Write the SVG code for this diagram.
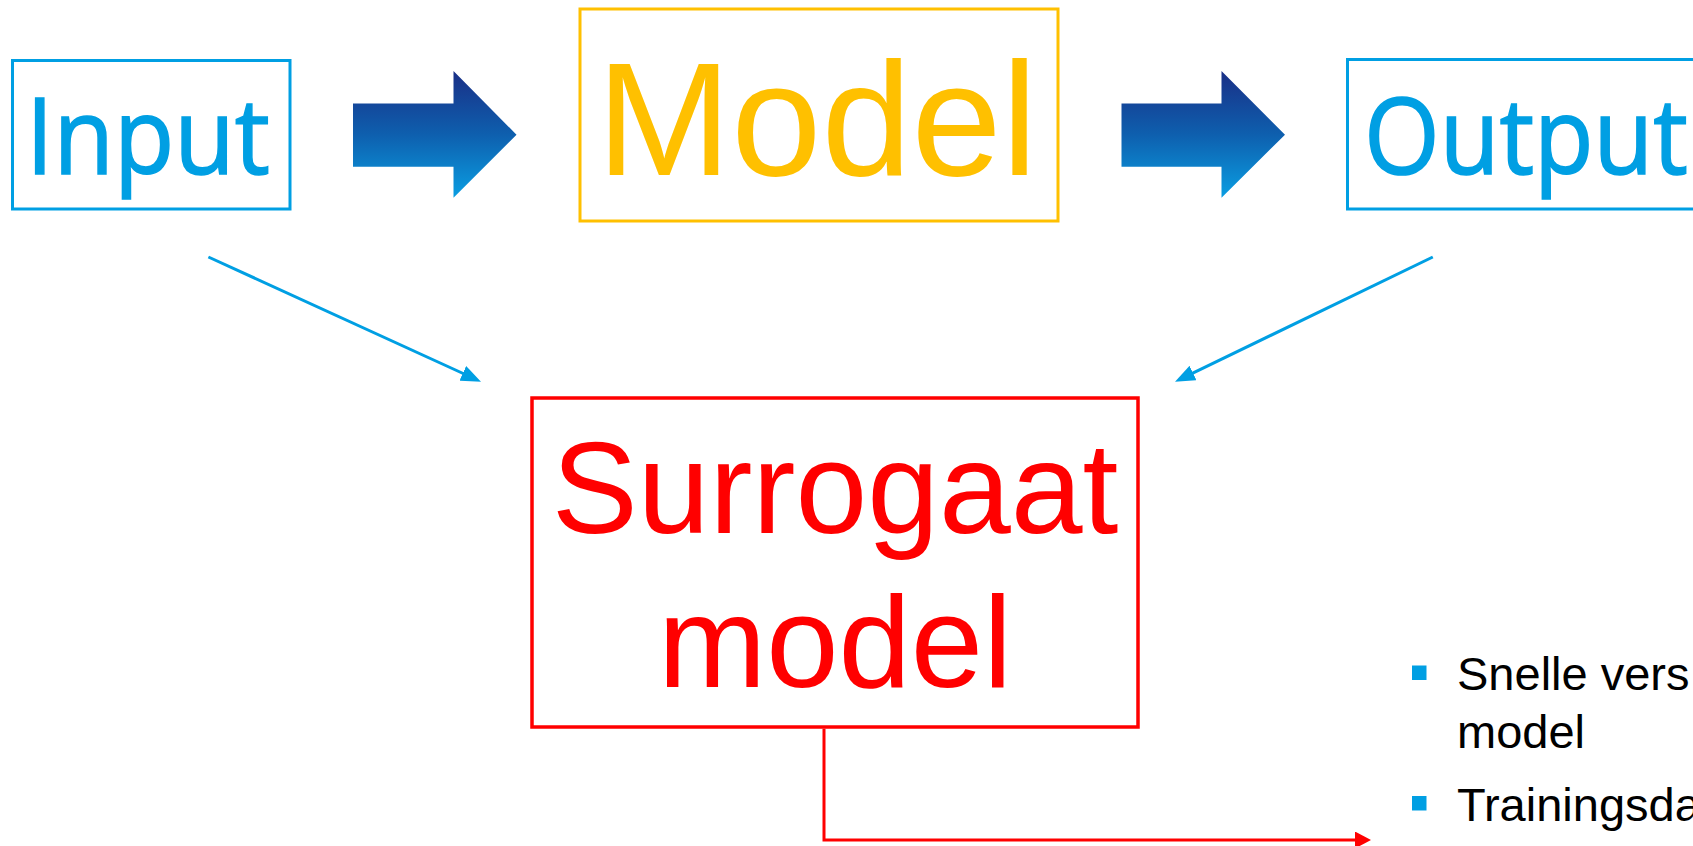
<svg xmlns="http://www.w3.org/2000/svg" width="1693" height="846" viewBox="0 0 1693 846">
<style>
.blue{fill:none;stroke:#009FE3;stroke-width:3}
.btxt{fill:#009FE3;stroke:#009FE3;stroke-width:1.6;font-family:"Open Sans","Noto Sans",sans-serif;font-size:106px}
.atxt{font-family:"Liberation Sans",Arial,sans-serif}
.conn{fill:none;stroke-width:3}
.bul{fill:#009FE3}
.list{fill:#000;font-family:"Liberation Sans",Arial,sans-serif;font-size:47px}
</style>
<defs>
<linearGradient id="g" x1="0" y1="0" x2="0" y2="1">
<stop offset="0" stop-color="#1A2F86"/>
<stop offset="0.5" stop-color="#0E5FAE"/>
<stop offset="1" stop-color="#0A9EE2"/>
</linearGradient>
<marker id="mb" markerUnits="userSpaceOnUse" markerWidth="20" markerHeight="16" viewBox="0 0 20 16" refX="10" refY="8" orient="auto">
<path d="M0,0 L20,8 L0,16 z" fill="#009FE3"/>
</marker>
<marker id="mr" markerUnits="userSpaceOnUse" markerWidth="16" markerHeight="17" viewBox="0 0 16 17" refX="6" refY="8.5" orient="auto">
<path d="M0,0 L16,8.5 L0,17 z" fill="#FF0000"/>
</marker>
</defs>
<g id="input">
<rect class="blue" x="12.5" y="60.5" width="277.5" height="148.5"/>
<text class="btxt" x="26" y="173.7" textLength="244" lengthAdjust="spacingAndGlyphs">Input</text>
</g>
<g id="arrow1">
<polygon points="353,103.5 453.5,103.5 453.5,71 516.5,134.7 453.5,197.7 453.5,166.8 353,166.8" fill="url(#g)"/>
</g>
<g id="model">
<rect x="580" y="9" width="478" height="212" fill="none" stroke="#FFC000" stroke-width="3"/>
<text class="atxt" x="817" y="174.5" font-size="162" fill="#FFC000" text-anchor="middle">Model</text>
</g>
<g id="arrow2">
<polygon points="1121.5,103.5 1221.5,103.5 1221.5,71 1285,134.7 1221.5,197.7 1221.5,166.8 1121.5,166.8" fill="url(#g)"/>
</g>
<g id="output">
<rect class="blue" x="1347.5" y="59.5" width="400" height="149.5"/>
<text class="btxt" x="1364" y="173.5" textLength="324" lengthAdjust="spacingAndGlyphs">Output</text>
</g>
<g id="surrogaat">
<rect x="532" y="398" width="606" height="329" fill="none" stroke="#FF0000" stroke-width="3.5"/>
<text class="atxt" x="835" y="533" font-size="129" fill="#FF0000" text-anchor="middle">Surrogaat</text>
<text class="atxt" x="835" y="687" font-size="130" fill="#FF0000" text-anchor="middle">model</text>
</g>
<g id="bullets">
<rect class="bul" x="1412" y="665.5" width="14.5" height="14.5"/>
<text class="list" x="1457" y="690">Snelle vers</text>
<text class="list" x="1457" y="748">model</text>
<rect class="bul" x="1412" y="796" width="14.5" height="14.5"/>
<text class="list" x="1457" y="820.5">Trainingsda</text>
</g>
<g id="connectors">
<path class="conn" stroke="#009FE3" d="M208.4,257 L471.9,377.5" marker-end="url(#mb)"/>
<path class="conn" stroke="#009FE3" d="M1432.8,257 L1184,377.35" marker-end="url(#mb)"/>
<path class="conn" stroke="#FF0000" d="M824,728.7 V840 H1361" marker-end="url(#mr)"/>
</g>
</svg>
